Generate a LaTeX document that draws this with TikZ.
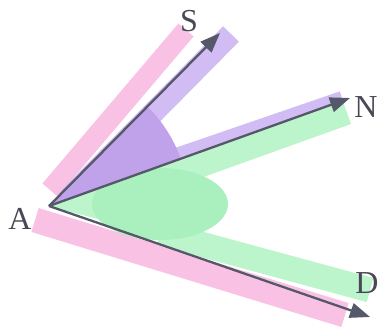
\documentclass[tikz,border=0pt]{standalone}
\usepackage{fontspec}
\setmainfont{Liberation Serif}
\usepackage{tikz}
\usetikzlibrary{arrows.meta}

\definecolor{hlpink}{RGB}{249,194,228}
\definecolor{hlpurple}{RGB}{210,188,244}
\definecolor{hlpurpledk}{RGB}{192,162,235}
\definecolor{hlgreen}{RGB}{188,245,204}
\definecolor{hlgreendk}{RGB}{170,240,190}
\definecolor{raygray}{RGB}{84,88,104}
\definecolor{lblgray}{RGB}{72,72,86}

\begin{document}
\begin{tikzpicture}[
      x=1pt, y=1pt,
      lbl/.style={inner sep=0pt, text=lblgray, font=\fontsize{32}{32}\selectfont},
      arr/.style={-{Triangle[length=20pt,width=15pt]}, line width=2.3pt, draw=raygray},
      marker/.style={line cap=butt}
    ]
    \useasboundingbox (0,0) rectangle (380,330);
    \coordinate (a) at (49,124);
    \coordinate (s) at (220,297);
    \coordinate (n) at (350,232);
    \coordinate (d) at (370,13);
    % marker strokes
    \draw[marker, hlpink, line width=20pt] (50,140) -- (186,300);
    \draw[marker, hlpink, line width=25pt] (35,110) -- (345,15);
    \draw[marker, hlpurple, line width=22pt] (69,132) -- (231,296);
    \draw[marker, hlpurple, line width=11pt] (140.7,164.4) -- (341.6,233.4);
    \fill[hlpurpledk] (a) -- ++(19.7:140pt) arc[start angle=19.7, end angle=45.3, radius=140pt] -- cycle;
    \draw[marker, hlgreen, line width=24pt] (109.9,132.1) -- (347,217.3);
    \draw[marker, hlgreen, line width=25pt] (160,97) -- (370,40);
    % angle blob below AN
    \begin{scope}
      \clip (a) -- ++(19.7:300pt) -- ++(0,-300) -- (49,0) -- cycle;
      \fill[hlgreen] (a) -- ++(-15:125pt) arc[start angle=-15, end angle=19.7, radius=125pt] -- cycle;
      \fill[hlgreendk] (160,126) ellipse[x radius=68pt, y radius=36pt];
    \end{scope}
    % rays
    \draw[arr] (a) -- (s);
    \draw[arr] (a) -- (n);
    \draw[arr] (a) -- (d);
    \node[lbl] (lA) at (20,111) {A};
    \node[lbl] (lS) at (189,309) {S};
    \node[lbl] (lN) at (366,223) {N};
    \node[lbl] (lD) at (367,47) {D};
  \end{tikzpicture}
\end{document}
